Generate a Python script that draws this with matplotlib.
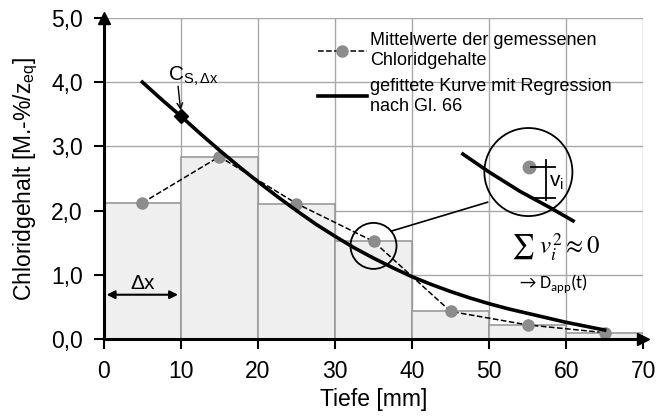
import matplotlib
matplotlib.use('Agg')
import matplotlib.pyplot as plt
from matplotlib.patches import Ellipse

plt.rcParams['font.family'] = ['Liberation Sans', 'DejaVu Sans']

# Tiefenstufen und Mittelwerte
depth_edges = [0, 10, 20, 30, 40, 50, 60]
depth_mid = [5, 15, 25, 35, 45, 55, 65]
chloride_mean = [2.12, 2.84, 2.11, 1.52, 0.43, 0.22, 0.10]

fit_x = [5, 7.5, 10, 12.5, 15, 17.5, 20, 22.5, 25, 27.5, 30, 32.5,
         35, 37.5, 40, 42.5, 45, 47.5, 50, 52.5, 55, 57.5, 60, 62.5, 65]
fit_y = [4.00, 3.73, 3.47, 3.20, 2.94, 2.69, 2.45, 2.22, 2.00, 1.79,
         1.60, 1.42, 1.26, 1.11, 0.97, 0.85, 0.74, 0.64, 0.55, 0.47,
         0.40, 0.33, 0.26, 0.20, 0.14]

# Oberflaechenwert C_S,dx
cs_x = 10
cs_y = 3.47

# Ausschnitt im Kreis
zoom_curve_x = [46.6, 50, 54, 58, 60.9]
zoom_curve_y = [2.88, 2.60, 2.30, 2.04, 1.84]
zoom_point = (55.2, 2.68)

xticks = [0, 10, 20, 30, 40, 50, 60, 70]
yticks = [0, 1, 2, 3, 4, 5]
ytick_labels = ['0,0', '1,0', '2,0', '3,0', '4,0', '5,0']

fig = plt.figure(figsize=(6.57, 4.16), dpi=100)
ax = fig.add_axes([0.158, 0.185, 0.821, 0.772])

grey = '#8c8c8c'
ax.bar(depth_edges, chloride_mean, width=10, align='edge',
       color='#efefef', edgecolor='#9a9a9a', linewidth=1.2, zorder=1)

ax.plot(depth_mid, chloride_mean, '--', color='black', linewidth=1.1,
        marker='o', markersize=8, markerfacecolor=grey, markeredgecolor=grey,
        zorder=3, label='Mittelwerte der gemessenen\nChloridgehalte')
ax.plot(fit_x, fit_y, '-', color='black', linewidth=2.6, zorder=4,
        label='gefittete Kurve mit Regression\nnach Gl. 66')
ax.plot([cs_x], [cs_y], marker='D', color='black', markersize=7, zorder=5)

ax.set_xlim(0, 70)
ax.set_ylim(0, 5)
ax.set_xticks(xticks)
ax.set_yticks(yticks)
ax.set_yticklabels(ytick_labels)
ax.tick_params(labelsize=16.5, length=7, width=1.5, direction='out', pad=8)
ax.grid(True, color='#a8a8a8', linewidth=1.0, zorder=0)
ax.set_axisbelow(True)
for side in ['top', 'right']:
    ax.spines[side].set_visible(False)
for side in ['left', 'bottom']:
    ax.spines[side].set_linewidth(2.2)
    ax.spines[side].set_zorder(6)

# Pfeilspitzen an den Achsen
ax.plot(1, 0, '>', color='black', markersize=9, transform=ax.transAxes,
        clip_on=False, zorder=7)
ax.plot(0, 1, '^', color='black', markersize=9, transform=ax.transAxes,
        clip_on=False, zorder=7)

ax.set_xlabel('Tiefe [mm]', fontsize=16.5, labelpad=4)
ax.set_ylabel('Chloridgehalt [M.-%/z$_{\\mathregular{eq}}$]', fontsize=16.5,
              labelpad=8)

leg = ax.legend(loc='upper left', bbox_to_anchor=(0.397, 0.955),
                frameon=False, fontsize=13, handlelength=2.7,
                handletextpad=0.2, labelspacing=0.5, borderpad=0,
                borderaxespad=0)

# C_S,dx Beschriftung
ax.annotate('', xy=(cs_x, cs_y + 0.05), xytext=(9.6, 3.98),
            arrowprops=dict(arrowstyle='->', color='black', lw=1.0), zorder=6)
ax.text(8.3, 4.02, 'C$_{\\mathregular{S,\\Delta x}}$', fontsize=15, ha='left',
        va='baseline')

# Delta x Pfeil
ax.annotate('', xy=(0, 0.69), xytext=(10, 0.69),
            arrowprops=dict(arrowstyle='<|-|>', color='black', lw=1.5,
                            mutation_scale=12), zorder=6)
ax.text(5.1, 0.86, '\u0394x', fontsize=15, ha='center', va='center')

# Kreise und Verbindungslinie
px_x = 539.0 / 70
px_y = 321.0 / 5
small = Ellipse((35, 1.45), 2 * 23 / px_x, 2 * 23 / px_y, fill=False,
                edgecolor='black', linewidth=1.3, zorder=6)
big = Ellipse((55.1, 2.60), 2 * 44 / px_x, 2 * 44 / px_y, fill=False,
              edgecolor='black', linewidth=1.3, zorder=6)
ax.add_patch(small)
ax.add_patch(big)
ax.plot([37.3, 49.8], [1.68, 2.13], color='black', linewidth=1.2, zorder=6)

ax.plot(zoom_curve_x, zoom_curve_y, color='black', linewidth=2.6, zorder=6)
ax.plot([zoom_point[0]], [zoom_point[1]], 'o', color=grey, markersize=9,
        zorder=7)
ax.plot([57.4, 57.4], [2.78, 2.16], color='black', linewidth=1.3, zorder=7)
ax.plot([55.4, 58.6], [2.68, 2.68], color='black', linewidth=1.3, zorder=7)
ax.plot([55.4, 58.6], [2.20, 2.20], color='black', linewidth=1.3, zorder=7)
ax.text(57.8, 2.43, 'v$_{\\mathregular{i}}$', fontsize=15, ha='left',
        va='center', zorder=7)

ax.text(58.7, 1.43, '$\\sum\\ v_i^2 \\approx 0$', fontsize=18, ha='center',
        va='center', math_fontfamily='stix')
ax.text(58.4, 0.86, '\u2192 D$_{\\mathregular{app}}$(t)', fontsize=13,
        ha='center', va='center', family=['Carlito', 'Liberation Sans',
                                           'DejaVu Sans'])

fig.savefig('out.png', dpi=100)
